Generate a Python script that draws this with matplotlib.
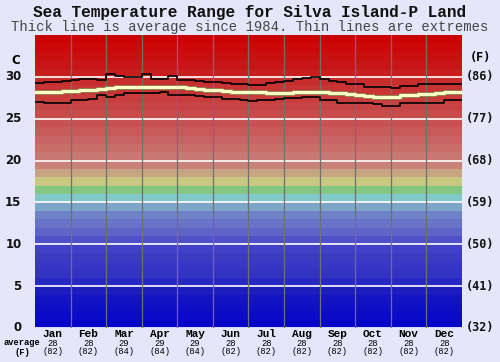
import matplotlib
matplotlib.use('Agg')
import matplotlib.pyplot as plt
import numpy as np

# data (4 steps per month)
t_max = [29.3, 29.4, 29.4, 29.5, 29.6, 29.8, 29.8, 29.6, 30.4, 30.1, 30.0, 30.0,
         30.35, 29.75, 29.75, 30.15, 29.6, 29.6, 29.5, 29.45, 29.45, 29.3, 29.2, 29.1,
         29.05, 29.05, 29.3, 29.4, 29.55, 29.7, 29.9, 30.05, 29.8, 29.55, 29.4, 29.2,
         29.1, 28.85, 28.85, 28.85, 28.7, 28.9, 28.9, 29.1, 29.15, 29.15, 29.15, 29.15]
t_avg = [28.15, 28.15, 28.15, 28.3, 28.35, 28.45, 28.5, 28.6, 28.7, 28.8, 28.85, 28.85,
         28.85, 28.85, 28.85, 28.85, 28.8, 28.7, 28.55, 28.45, 28.4, 28.3, 28.25, 28.2,
         28.15, 28.15, 28.1, 28.05, 28.1, 28.2, 28.2, 28.2, 28.15, 28.1, 28.05, 28.0,
         27.9, 27.75, 27.65, 27.6, 27.6, 27.8, 27.85, 27.95, 28.0, 28.05, 28.2, 28.25]
t_min = [27.05, 26.85, 26.85, 26.9, 27.25, 27.3, 27.4, 27.85, 27.6, 27.9, 28.1, 28.1,
         28.05, 28.1, 28.15, 27.9, 27.85, 27.8, 27.75, 27.65, 27.6, 27.4, 27.35, 27.3,
         27.1, 27.25, 27.25, 27.4, 27.45, 27.5, 27.65, 27.65, 27.3, 27.2, 26.9, 26.85,
         26.85, 26.85, 26.8, 26.5, 26.5, 26.85, 26.85, 26.85, 26.9, 26.9, 27.2, 27.2]

months = ['Jan', 'Feb', 'Mar', 'Apr', 'May', 'Jun',
          'Jul', 'Aug', 'Sep', 'Oct', 'Nov', 'Dec']
month_avg_c = [28, 28, 29, 29, 29, 28, 28, 28, 28, 28, 28, 28]
month_avg_f = [82, 82, 84, 84, 84, 82, 82, 82, 82, 82, 82, 82]

c_ticks = [0, 5, 10, 15, 20, 25, 30]
f_labels = ['(32)', '(41)', '(50)', '(59)', '(68)', '(77)', '(86)']

# one colour per 1 degree band, 0..35
band_rgb = [(5, 5, 200), (10, 10, 200), (15, 15, 195), (20, 20, 195), (28, 28, 190),
            (40, 40, 195), (50, 50, 195), (55, 55, 195), (60, 60, 195), (65, 65, 200),
            (80, 80, 200), (95, 100, 200), (105, 115, 200), (110, 130, 200), (125, 165, 200),
            (130, 200, 200), (130, 200, 130), (200, 200, 130), (200, 165, 130), (200, 130, 120),
            (200, 120, 115), (200, 110, 105), (200, 100, 100), (200, 90, 90), (200, 82, 82),
            (200, 75, 75), (200, 68, 68), (200, 60, 60), (200, 52, 52), (200, 45, 45),
            (200, 30, 30), (200, 22, 22), (202, 15, 15), (204, 8, 8), (204, 2, 2)]

bg = '#e6e6fa'
mono = ['Liberation Mono', 'DejaVu Sans Mono']

fig = plt.figure(figsize=(5.0, 3.62), dpi=100, facecolor=bg)
ax = fig.add_axes([0.07, 0.094, 0.854, 0.809])

for k, c in enumerate(band_rgb):
    ax.axhspan(k, k + 1, color=np.array(c) / 255.0, lw=0, zorder=0)

for y in c_ticks:
    ax.axhline(y, color='white', lw=1.2, zorder=1)
for m in range(1, 12):
    ax.axvline(m, color='#707070', lw=0.9, zorder=1)

x = np.arange(len(t_avg) + 1) / 4.0
ax.plot(x, t_max + [t_max[-1]], drawstyle='steps-post', color='black', lw=1.2, zorder=3)
ax.plot(x, t_min + [t_min[-1]], drawstyle='steps-post', color='black', lw=1.2, zorder=3)
ax.plot(x, t_avg + [t_avg[-1]], drawstyle='steps-post', color='#8a8a50', lw=3.4, zorder=4)
ax.plot(x, t_avg + [t_avg[-1]], drawstyle='steps-post', color='#ffffc8', lw=2.2, zorder=5)

ax.set_xlim(0, 12)
ax.set_ylim(0, 35)
ax.set_xticks([])
ax.set_yticks([])
for s in ax.spines.values():
    s.set_visible(False)

# left / right tick labels
for y in c_ticks:
    ax.text(-0.38, y, str(y), ha='right', va='center', fontsize=8.5,
            fontweight='bold', family='DejaVu Sans', color='#111111', clip_on=False)
for y, lab in zip(c_ticks, f_labels):
    ax.text(12.1, y, lab, ha='left', va='center', fontsize=8.5,
            fontweight='bold', family='DejaVu Sans Mono', color='#111111', clip_on=False)
ax.text(-0.55, 32.0, 'C', ha='center', va='center', fontsize=8.5,
        fontweight='bold', family='DejaVu Sans', clip_on=False)
ax.text(12.52, 32.3, '(F)', ha='center', va='center', fontsize=8.5,
        fontweight='bold', family='DejaVu Sans Mono', clip_on=False)

# month labels and monthly averages
for i, m in enumerate(months):
    xc = i + 0.5
    ax.text(xc, -0.75, m, ha='center', va='center', fontsize=8, fontweight='bold',
            family=mono, clip_on=False)
    ax.text(xc, -1.8, str(month_avg_c[i]), ha='center', va='center', fontsize=6.3,
            family=mono, clip_on=False)
    ax.text(xc, -2.85, '(%d)' % month_avg_f[i], ha='center', va='center', fontsize=6.3,
            family=mono, clip_on=False)
fig.text(0.044, 0.0525, 'average', ha='center', va='center', fontsize=6.3,
         fontweight='bold', family=mono)
fig.text(0.044, 0.0276, '(F)', ha='center', va='center', fontsize=6.3,
         fontweight='bold', family=mono)

fig.text(0.5, 0.966, 'Sea Temperature Range for Silva Island-P Land', ha='center',
         va='center', fontsize=11.6, fontweight='bold', family=mono, color='#111111')
fig.text(0.5, 0.925, 'Thick line is average since 1984. Thin lines are extremes',
         ha='center', va='center', fontsize=10, family=mono, color='#444444')

fig.savefig('out.png', dpi=100, facecolor=bg)
